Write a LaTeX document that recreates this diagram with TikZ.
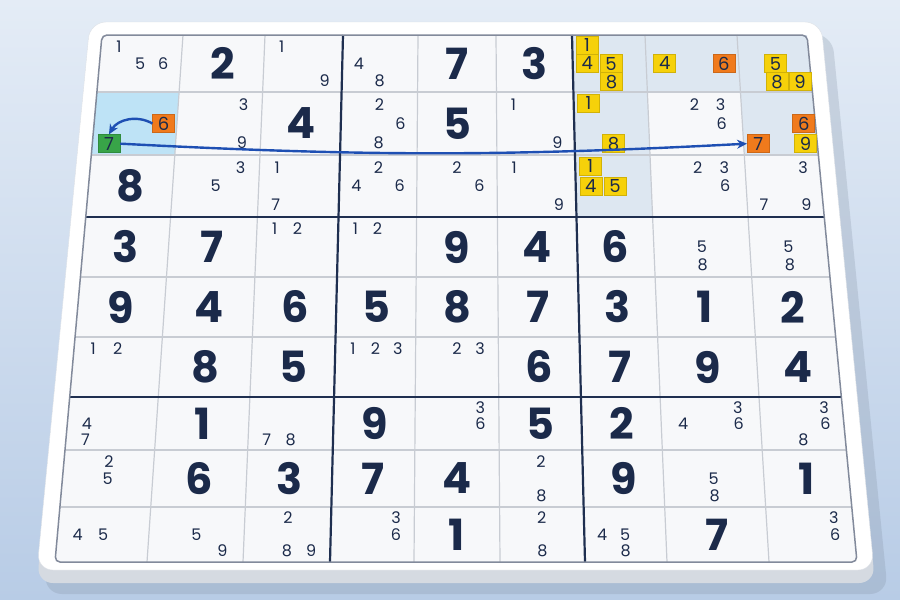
\documentclass[tikz,border=0pt]{standalone}
\usepackage{fontspec}
\setmainfont{Poppins}
\usetikzlibrary{calc,arrows.meta}
\definecolor{ink}{HTML}{1B2A4A}
\definecolor{boxline}{HTML}{1F2F50}
\definecolor{hairline}{HTML}{C8CCD3}
\definecolor{cellbg}{HTML}{F7F8FA}
\definecolor{pickbg}{HTML}{BEE3F6}
\definecolor{boxbg}{HTML}{DDE7F1}
\definecolor{tileyellow}{HTML}{F6D10A}
\definecolor{tileorange}{HTML}{F07A1C}
\definecolor{tilegreen}{HTML}{38A448}
\definecolor{arrowblue}{HTML}{1E4FB3}
\definecolor{skytop}{HTML}{E4ECF6}
\definecolor{skybot}{HTML}{B8CCE6}
\definecolor{rim}{HTML}{D5DAE1}
\tikzset{
  bignum/.style={font=\bfseries\fontsize{43}{43}\selectfont, text=ink, inner sep=0pt},
  cand/.style={font=\fontsize{16}{16}\selectfont, text=ink, inner sep=0pt},
  tile/.style={minimum width=22pt, minimum height=18pt, inner sep=0pt, line width=0.6pt,
    font=\fontsize{18}{18}\selectfont, text=ink},
  tileY/.style={tile, fill=tileyellow, draw=tileyellow!85!black},
  tileO/.style={tile, fill=tileorange, draw=tileorange!85!black},
  tileG/.style={tile, fill=tilegreen, draw=tilegreen!85!black},
  gridthin/.style={draw=hairline, line width=1.2pt},
  gridthick/.style={draw=boxline, line width=2.2pt},
  gridedge/.style={draw=ink!55, line width=1.5pt, rounded corners=5pt},
  move/.style={draw=arrowblue, line width=2.4pt, -{Stealth[length=10pt,width=9pt]}}
}
\begin{document}
\begin{tikzpicture}[x=1pt,y=-1pt]
\useasboundingbox (0,0) rectangle (900,600);
\shade[top color=skytop, bottom color=skybot] (0,0) rectangle (900,600);
% board with its shadow
\fill[skybot!70!black, opacity=0.25, rounded corners=18pt] (98,34) -- (832,34) -- (888,594) -- (44,594) -- cycle;
\fill[rim, rounded corners=16pt] (90,30) -- (821,30) -- (875,583) -- (37,583) -- cycle;
\fill[white, draw=rim!80, rounded corners=16pt] (90,22) -- (821,22) -- (874,570) -- (37,570) -- cycle;
% grid corners p-col-row
\def\topx{{102,183,265,343,418,496,572,645,737,807}}
\def\botx{{55,147,243,330,414,500,585,667,769,857}}
\def\rowy{{35,92,155,217,277,337,397,450,507,562}}
\foreach \i in {0,...,9}
  \foreach \j in {0,...,9} {
    \pgfmathsetmacro\yy{\rowy[\j]}
    \pgfmathsetmacro\xx{\topx[\i]+(\yy-35)/527*(\botx[\i]-\topx[\i])}
    \coordinate (p-\i-\j) at (\xx,\yy);
  }
\fill[cellbg, rounded corners=5pt] (p-0-0) -- (p-9-0) -- (p-9-9) -- (p-0-9) -- cycle;
% shaded cells
\foreach \r/\c/\bg in {2/1/pickbg, 1/7/boxbg, 1/8/boxbg, 1/9/boxbg, 2/7/boxbg, 2/9/boxbg, 3/7/boxbg} {
  \pgfmathtruncatemacro\cl{\c-1}
  \pgfmathtruncatemacro\rt{\r-1}
  \fill[\bg] (p-\cl-\rt) -- (p-\c-\rt) -- (p-\c-\r) -- (p-\cl-\r) -- cycle;
}
% lines
\foreach \i in {1,2,4,5,7,8} {
  \draw[gridthin] (p-\i-0) -- (p-\i-9);
  \draw[gridthin] (p-0-\i) -- (p-9-\i);
}
\foreach \i in {3,6} {
  \draw[gridthick] (p-\i-0) -- (p-\i-9);
  \draw[gridthick] (p-0-\i) -- (p-9-\i);
}
\draw[gridedge] (p-0-0) -- (p-9-0) -- (p-9-9) -- (p-0-9) -- cycle;
% givens and solved cells
\foreach \r/\c/\d in {1/2/2, 1/5/7, 1/6/3, 2/3/4, 2/5/5, 3/1/8,
    4/1/3, 4/2/7, 4/5/9, 4/6/4, 4/7/6,
    5/1/9, 5/2/4, 5/3/6, 5/4/5, 5/5/8, 5/6/7, 5/7/3, 5/8/1, 5/9/2,
    6/2/8, 6/3/5, 6/6/6, 6/7/7, 6/8/9, 6/9/4,
    7/2/1, 7/4/9, 7/6/5, 7/7/2,
    8/2/6, 8/3/3, 8/4/7, 8/5/4, 8/7/9, 8/9/1,
    9/5/1, 9/8/7} {
  \pgfmathtruncatemacro\cl{\c-1}
  \pgfmathtruncatemacro\rt{\r-1}
  \node[bignum] (n-\r-\c) at ($($(p-\cl-\rt)!0.5!(p-\cl-\r)$)!0.5!($(p-\c-\rt)!0.5!(p-\c-\r)$)$) {\d};
}
% pencil marks
\foreach \r/\c/\ks in {1/1/{1,5,6}, 1/3/{1,9}, 1/4/{4,8},
    2/2/{3,9}, 2/4/{2,6,8}, 2/6/{1,9}, 2/8/{2,3,6},
    3/2/{3,5}, 3/3/{1,7}, 3/4/{2,4,6}, 3/5/{2,6}, 3/6/{1,9}, 3/8/{2,3,6}, 3/9/{3,7,9},
    4/3/{1,2}, 4/4/{1,2}, 4/8/{5,8}, 4/9/{5,8},
    6/1/{1,2}, 6/4/{1,2,3}, 6/5/{2,3},
    7/1/{4,7}, 7/3/{7,8}, 7/5/{3,6}, 7/8/{3,4,6}, 7/9/{3,6,8},
    8/1/{2,5}, 8/6/{2,8}, 8/8/{5,8},
    9/1/{4,5}, 9/2/{5,9}, 9/3/{2,8,9}, 9/4/{3,6}, 9/6/{2,8}, 9/7/{4,5,8}, 9/9/{3,6}} {
  \pgfmathtruncatemacro\cl{\c-1}
  \pgfmathtruncatemacro\rt{\r-1}
  \foreach \k in \ks {
    \pgfmathsetmacro\ca{0.22+0.28*mod(\k-1,3)}
    \pgfmathsetmacro\cb{0.2+0.3*floor((\k-1)/3)}
    \node[cand] (m-\r-\c-\k) at ($($(p-\cl-\rt)!\cb!(p-\cl-\r)$)!\ca!($(p-\c-\rt)!\cb!(p-\c-\r)$)$) {\k};
  }
}
% coloured candidates
\foreach \r/\c/\k/\kind in {1/7/1/tileY, 1/7/4/tileY, 1/7/5/tileY, 1/7/8/tileY,
    1/8/4/tileY, 1/8/6/tileO, 1/9/5/tileY, 1/9/8/tileY, 1/9/9/tileY,
    2/1/6/tileO, 2/1/7/tileG, 2/7/1/tileY, 2/7/8/tileY,
    2/9/6/tileO, 2/9/7/tileO, 2/9/9/tileY,
    3/7/1/tileY, 3/7/4/tileY, 3/7/5/tileY} {
  \pgfmathtruncatemacro\cl{\c-1}
  \pgfmathtruncatemacro\rt{\r-1}
  \pgfmathsetmacro\ca{0.2+0.32*mod(\k-1,3)}
  \pgfmathsetmacro\cb{0.18+0.32*floor((\k-1)/3)}
  \node[\kind] (t-\r-\c-\k) at ($($(p-\cl-\rt)!\cb!(p-\cl-\r)$)!\ca!($(p-\c-\rt)!\cb!(p-\c-\r)$)$) {\k};
}
\draw[move] (t-2-1-6.west) to[out=150,in=60] (t-2-1-7.north);
\draw[move] (t-2-1-7.east) to[bend right=3] (t-2-9-7.west);
\end{tikzpicture}
\end{document}
